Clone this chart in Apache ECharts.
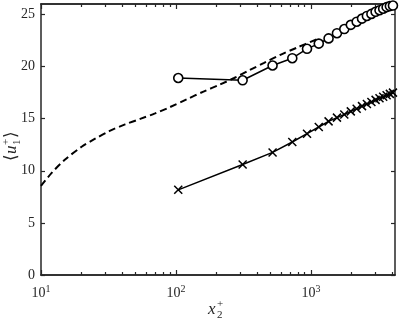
<!DOCTYPE html>
<html>
<head>
<meta charset="utf-8">
<script src="https://cdn.jsdelivr.net/npm/echarts@6/dist/echarts.min.js"></script>
<style>
  html, body { margin: 0; padding: 0; background: #fff; }
  #chart-panel { width: 399px; height: 320px; }
</style>
</head>
<body>
<div id="chart-panel"></div>
<script>
// x2+ sample positions shared by both symbol series
var xPlus = [104, 312, 520, 728, 936, 1144, 1352, 1560, 1768, 1976,
             2184, 2392, 2600, 2808, 3016, 3224, 3432, 3640, 3848, 4056];
var circleU = [18.9, 18.68, 20.1, 20.8, 21.7, 22.2, 22.7, 23.2, 23.6, 24.0,
               24.3, 24.6, 24.85, 25.05, 25.25, 25.4, 25.55, 25.7, 25.8, 25.85];
var crossU = [8.17, 10.6, 11.76, 12.76, 13.56, 14.2, 14.74, 15.1, 15.4, 15.7,
              15.95, 16.2, 16.4, 16.6, 16.8, 16.95, 17.1, 17.25, 17.38, 17.5];

// dashed reference profile
var dashX = [10, 12, 15, 20, 25, 32, 42, 55, 70, 90, 120, 160, 210, 270, 350, 450, 600, 800, 1100];
var dashU = [8.55, 9.8, 11.05, 12.3, 13.05, 13.8, 14.45, 15.0, 15.5, 16.1, 16.85, 17.6, 18.25, 18.9, 19.65, 20.35, 21.15, 21.85, 22.6];

var majorTicks = [10, 100, 1000];
var minorTicks = [20, 30, 40, 50, 60, 70, 80, 90, 200, 300, 400, 500, 600, 700, 800, 900, 2000, 3000, 4000];

var FONT = 'Liberation Serif';
var AX = '#262626';

function pairs(xs, ys) {
    return xs.map(function (x, i) { return [x, ys[i]]; });
}

function xAx(pos, ticks, len, labels) {
    return {
        type: 'log', logBase: 10, min: 10, max: 4200, position: pos,
        axisLine: { show: true, lineStyle: { color: AX, width: 1.5 } },
        axisTick: { show: true, inside: true, length: len, customValues: ticks, lineStyle: { color: AX, width: 1.2 } },
        axisLabel: labels ? {
            show: true, customValues: majorTicks, margin: 9,
            formatter: function (v) {
                return '{b|10}{e|' + Math.round(Math.log10(v)) + '}';
            },
            rich: {
                b: { fontFamily: FONT, fontSize: 14, color: AX },
                e: { fontFamily: FONT, fontSize: 10, color: AX, padding: [0, 0, 8, 0] }
            }
        } : { show: false },
        splitLine: { show: false },
        minorTick: { show: false }
    };
}

function yAx(pos, labels) {
    return {
        type: 'value', min: 0, max: 26, interval: 5, position: pos,
        axisLine: { show: true, lineStyle: { color: AX, width: 1.5 } },
        axisTick: { show: true, inside: true, length: 4, lineStyle: { color: AX, width: 1.2 } },
        axisLabel: { show: labels, fontFamily: FONT, fontSize: 14, color: AX, margin: 6 },
        splitLine: { show: false }
    };
}

function txt(x, y, s, size, italic) {
    return {
        type: 'text', x: x, y: y,
        style: {
            text: s, fill: AX, textAlign: 'left', textVerticalAlign: 'middle',
            font: (italic ? 'italic ' : '') + size + 'px "' + FONT + '", "DejaVu Serif"'
        }
    };
}

var myChart = echarts.init(document.getElementById('chart-panel'), null, { renderer: 'canvas' });
myChart.setOption({
    animation: false,
    backgroundColor: '#fff',
    grid: { left: 41, right: 4, top: 4, bottom: 45, containLabel: false, outerBoundsMode: 'none' },
    xAxis: [xAx('bottom', majorTicks, 5, true), xAx('bottom', minorTicks, 3, false),
            xAx('top', majorTicks, 5, false), xAx('top', minorTicks, 3, false)],
    yAxis: [yAx('left', true), yAx('right', false)],
    graphic: [
        {
            // x-axis title: x_2^+
            type: 'group', x: 216, y: 310,
            children: [txt(-8, 0, 'x', 17, true), txt(1, -6, '+', 11, false), txt(1, 5, '2', 11, false)]
        },
        {
            // y-axis title: <u_1^+>, rotated
            type: 'group', x: 12, y: 142, rotation: Math.PI / 2,
            children: [txt(-19, 0, '\u27E8', 17, false), txt(-12, 0, 'u', 17, true),
                       txt(-3, -6, '+', 11, false), txt(-3, 5, '1', 11, false),
                       txt(4, 0, '\u27E9', 17, false)]
        }
    ],
    series: [
        {
            type: 'line', data: pairs(dashX, dashU), symbol: 'none', smooth: 0.3,
            lineStyle: { color: '#000', width: 2, type: [7, 4] }
        },
        {
            type: 'line', data: pairs(xPlus, circleU), symbol: 'circle', symbolSize: 9,
            lineStyle: { color: '#000', width: 1.5 },
            itemStyle: { color: '#fff', borderColor: '#000', borderWidth: 1.6 }
        },
        {
            type: 'line', data: pairs(xPlus, crossU),
            symbol: 'path://M0,0L10,10M10,0L0,10', symbolSize: 8,
            lineStyle: { color: '#000', width: 1.5 },
            itemStyle: { color: '#000', borderColor: '#000', borderWidth: 1.5 }
        }
    ]
});
</script>
</body>
</html>
